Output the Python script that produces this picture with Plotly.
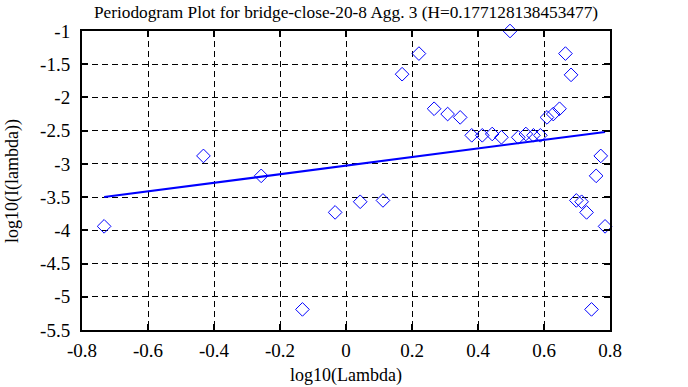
import plotly.graph_objects as go

# Data
log_lambda = [-0.733, -0.432, -0.257, -0.132, -0.033, 0.043, 0.112, 0.170, 0.221,
              0.267, 0.308, 0.346, 0.381, 0.413, 0.443, 0.471, 0.497, 0.522,
              0.545, 0.568, 0.589, 0.609, 0.628, 0.647, 0.665, 0.682, 0.698,
              0.714, 0.729, 0.744, 0.758, 0.772, 0.785]
log_I = [-3.94, -2.88, -3.18, -5.19, -3.73, -3.57, -3.55, -1.65, -1.34,
         -2.17, -2.25, -2.30, -2.57, -2.57, -2.55, -2.60, -1.00, -2.60,
         -2.55, -2.57, -2.57, -2.30, -2.25, -2.17, -1.34, -1.66, -3.55,
         -3.57, -3.73, -5.19, -3.18, -2.88, -3.94]
fit_x = [-0.733, 0.785]
fit_y = [-3.500, -2.520]

x_ticks = [-0.8, -0.6, -0.4, -0.2, 0, 0.2, 0.4, 0.6, 0.8]
x_ticktext = ["-0.8", "-0.6", "-0.4", "-0.2", "0", "0.2", "0.4", "0.6", "0.8"]
y_ticks = [-1, -1.5, -2, -2.5, -3, -3.5, -4, -4.5, -5, -5.5]
y_ticktext = ["-1", "-1.5", "-2", "-2.5", "-3", "-3.5", "-4", "-4.5", "-5", "-5.5"]

title_text = "Periodogram Plot for bridge-close-20-8 Agg. 3 (H=0.177128138453477)"
x_title = "log10(Lambda)"
y_title = "log10(I(lambda))"

FONT = "Liberation Serif"
W, H = 688, 387
L, R, T, B = 82, 78, 31, 57
PW, PH = W - L - R, H - T - B

fig = go.Figure()
fig.add_trace(go.Scatter(
    x=log_lambda, y=log_I, mode="markers",
    marker=dict(symbol="diamond-open", size=10.5, color="#0000ff",
                line=dict(width=1, color="#0000ff")),
    showlegend=False, cliponaxis=False))
fig.add_trace(go.Scatter(
    x=fit_x, y=fit_y, mode="lines",
    line=dict(color="#0000ff", width=2), showlegend=False))

axis_common = dict(
    showline=True, linecolor="black", linewidth=2, mirror="ticks",
    ticks="inside", ticklen=6, tickwidth=2, tickcolor="black",
    showgrid=True, gridcolor="black", gridwidth=1, griddash="6px,4px",
    zeroline=False, automargin=False,
    tickfont=dict(family=FONT, size=19, color="black"),
)

fig.update_layout(
    width=W, height=H,
    margin=dict(l=L, r=R, t=T, b=B, autoexpand=False),
    paper_bgcolor="white", plot_bgcolor="white",
    font=dict(family=FONT, color="black"),
    title=dict(text=title_text, x=0.5, xref="paper", xanchor="center",
               y=1 - 12 / H, yref="container", yanchor="middle",
               font=dict(family=FONT, size=17.3, color="black")),
    xaxis=dict(range=[-0.8, 0.8], tickvals=x_ticks, ticktext=x_ticktext,
               ticklabelstandoff=2, **axis_common),
    yaxis=dict(range=[-5.5, -1], tickvals=y_ticks, ticktext=y_ticktext,
               ticklabelstandoff=6, **axis_common),
    annotations=[
        dict(text=x_title, xref="paper", yref="paper", x=0.5,
             y=-(376 - (H - B)) / PH, xanchor="center", yanchor="middle",
             showarrow=False, font=dict(family=FONT, size=18, color="black")),
        dict(text=y_title, xref="paper", yref="paper",
             x=-(L - 12) / PW, y=0.5 - (181 - (T + PH / 2)) / PH,
             xanchor="center", yanchor="middle", textangle=-90,
             showarrow=False, font=dict(family=FONT, size=18, color="black")),
    ],
)

fig.write_html("out.html",
               config={"displayModeBar": False},
               post_script="document.body.style.margin='0px';"
                           "document.body.style.overflow='hidden';")
